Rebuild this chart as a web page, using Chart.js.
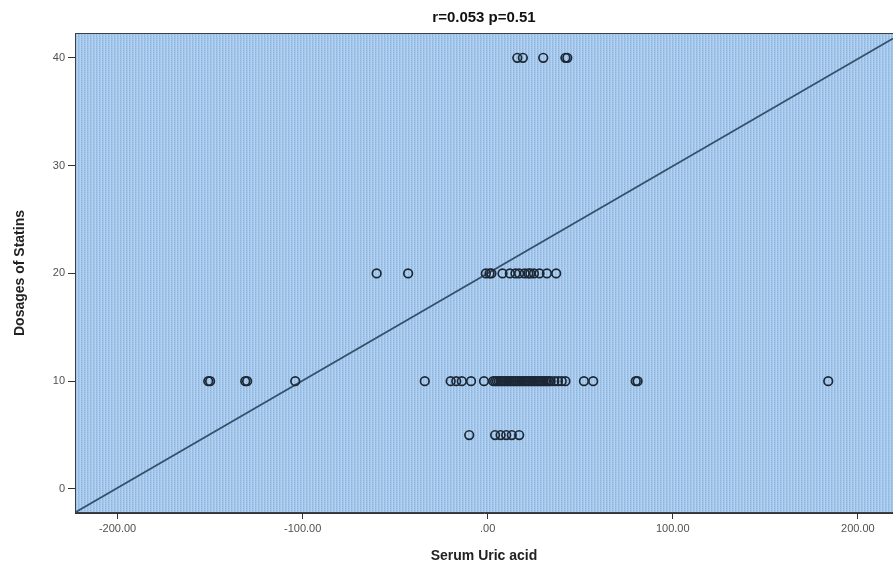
<!DOCTYPE html>
<html>
<head>
<meta charset="utf-8">
<script src="https://cdn.jsdelivr.net/npm/chart.js@4/dist/chart.umd.min.js"></script>
<style>
html,body{margin:0;padding:0;background:#fff;}
#wrap{width:893px;height:567px;}
</style>
</head>
<body>
<div id="wrap"><canvas id="c" width="893" height="567"></canvas></div>
<script>
// ---- data (Serum Uric acid values grouped by statin dosage) ----
const uricAtDose5  = [-10, 4, 7, 10, 13, 17];
const uricAtDose10 = [-151, -150, -131, -130, -104, -34, -20, -17, -14, -9, -2,
  3, 4, 5, 6, 7, 8, 9, 10, 11, 12, 13, 14, 15, 16, 17, 18, 19, 20, 21, 22, 23, 24,
  25, 26, 27, 28, 29, 30, 31, 32, 33, 34, 36, 38, 40, 42, 52, 57, 80, 81, 184];
const uricAtDose20 = [-60, -43, -1, 1, 2, 8, 12, 15, 17, 20, 22, 23, 25, 28, 32, 37];
const uricAtDose40 = [16, 19, 30, 42, 43];
const doseLevels = [5, 10, 20, 40];
const xTickValues = [-200, -100, 0, 100, 200];
const xTickLabels = ['-200.00', '-100.00', '.00', '100.00', '200.00'];
const yTickValues = [0, 10, 20, 30, 40];
const fitIntercept = 20.0;
const fitSlope = 0.0995;
const titleText = 'r=0.053 p=0.51';
const xTitle = 'Serum Uric acid';
const yTitle = 'Dosages of Statins';

const xMin = -223, xMax = 219, yMin = -2.23, yMax = 42.3;

const groups = [uricAtDose5, uricAtDose10, uricAtDose20, uricAtDose40];
const points = [];
groups.forEach((g, i) => g.forEach(v => points.push({x: v, y: doseLevels[i]})));
const fitLine = [{x: xMin, y: fitIntercept + fitSlope * xMin}, {x: xMax, y: fitIntercept + fitSlope * xMax}];

// striped background pattern
function makePattern(ctx) {
  const t = document.createElement('canvas');
  t.width = 3; t.height = 4;
  const c = t.getContext('2d');
  c.fillStyle = '#b2d2f2'; c.fillRect(0, 0, 3, 4);
  c.fillStyle = '#a4c6ea'; c.fillRect(1, 0, 1, 4);
  c.fillStyle = '#8fb5de'; c.fillRect(0, 0, 1, 4);
  c.fillStyle = '#a0c2e6'; c.fillRect(0, 1, 1, 1); c.fillRect(0, 3, 1, 1);
  return ctx.createPattern(t, 'repeat');
}

const bgPlugin = {
  id: 'bg',
  beforeDatasetsDraw(chart) {
    const {ctx, chartArea: a} = chart;
    ctx.save();
    ctx.fillStyle = makePattern(ctx);
    ctx.fillRect(a.left, a.top, a.right - a.left, a.bottom - a.top);
    ctx.restore();
  },
  afterDatasetsDraw(chart) {
    const {ctx, chartArea: a} = chart;
    ctx.save();
    ctx.strokeStyle = '#3a3f48';
    ctx.lineWidth = 1;
    ctx.strokeRect(a.left + 0.5, a.top + 0.5, a.right - a.left, a.bottom - a.top - 1);
    ctx.restore();
  }
};

new Chart(document.getElementById('c'), {
  type: 'scatter',
  data: {
    datasets: [
      {
        data: points,
        pointRadius: 4.3,
        pointHoverRadius: 4.3,
        pointBorderWidth: 1.7,
        pointBorderColor: '#1c2836',
        pointBackgroundColor: 'rgba(0,0,0,0)',
        order: 1
      },
      {
        type: 'line',
        data: fitLine,
        showLine: true,
        borderColor: '#34506b',
        borderWidth: 1.7,
        pointRadius: 0,
        fill: false,
        order: 2
      }
    ]
  },
  plugins: [bgPlugin],
  options: {
    responsive: false,
    animation: false,
    devicePixelRatio: 1,
    layout: {autoPadding: false, padding: {left: 0, right: 0, top: 0, bottom: 0}},
    plugins: {
      legend: {display: false},
      tooltip: {enabled: false},
      title: {
        display: true,
        text: titleText,
        fullSize: false,
        color: '#111',
        font: {family: 'Liberation Sans', size: 15, weight: 'bold'},
        padding: {top: 9, bottom: 6}
      }
    },
    scales: {
      x: {
        type: 'linear',
        min: xMin, max: xMax,
        afterBuildTicks(s) { s.ticks = xTickValues.map(v => ({value: v})); },
        afterFit(s) { s.height = 54; s.paddingLeft = 0; s.paddingRight = 0; },
        ticks: {
          color: '#505050',
          font: {family: 'Liberation Sans', size: 11},
          padding: 3,
          maxRotation: 0,
          callback: (v) => { const i = xTickValues.indexOf(v); return i >= 0 ? xTickLabels[i] : ''; }
        },
        grid: {drawOnChartArea: false, drawTicks: true, tickLength: 6, color: '#333'},
        border: {display: true, color: '#333', width: 1},
        title: {
          display: true, text: xTitle, color: '#222',
          font: {family: 'Liberation Sans', size: 14, weight: 'bold'},
          padding: {top: 4, bottom: 2}
        }
      },
      y: {
        type: 'linear',
        min: yMin, max: yMax,
        afterBuildTicks(s) { s.ticks = yTickValues.map(v => ({value: v})); },
        afterFit(s) { s.width = 75; s.paddingTop = 0; s.paddingBottom = 0; },
        ticks: {
          color: '#505050',
          font: {family: 'Liberation Sans', size: 11},
          padding: 3
        },
        grid: {drawOnChartArea: false, drawTicks: true, tickLength: 7, color: '#333'},
        border: {display: true, color: '#333', width: 1},
        title: {
          display: true, text: yTitle, color: '#222',
          font: {family: 'Liberation Sans', size: 14, weight: 'bold'},
          padding: {top: 12, bottom: 4}
        }
      }
    }
  }
});
</script>
</body>
</html>
